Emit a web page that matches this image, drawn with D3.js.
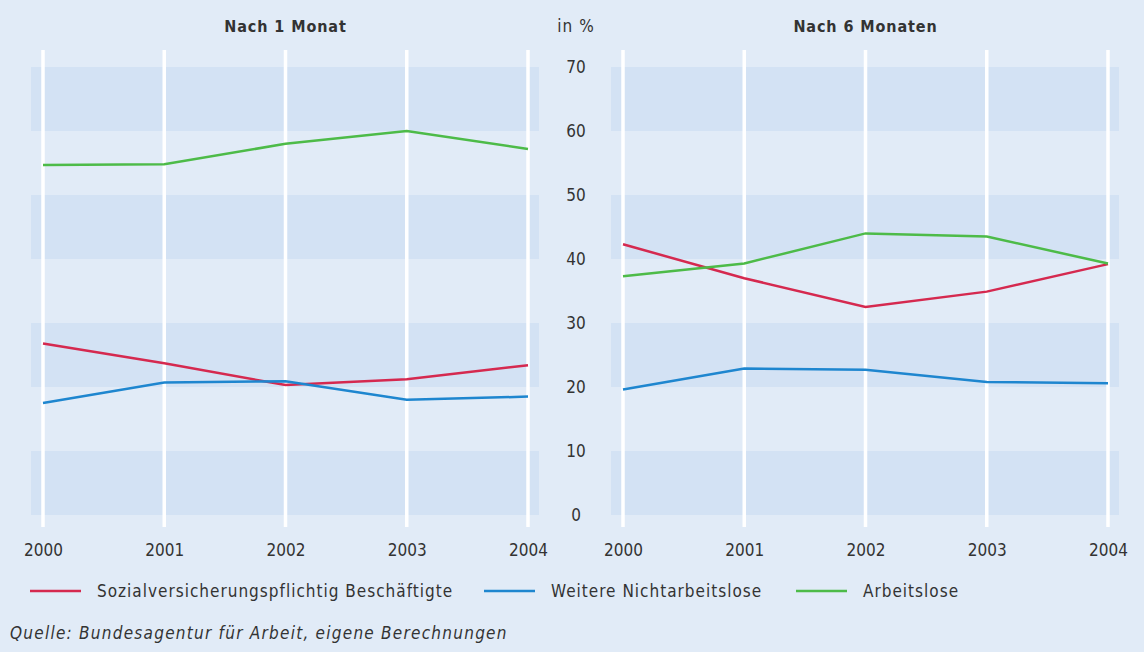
<!DOCTYPE html>
<html>
<head>
<meta charset="utf-8">
<script src="https://cdn.jsdelivr.net/npm/d3@7"></script>
<style>
  body { margin: 0; background: #e1ebf7; }
  svg { display: block; }
</style>
</head>
<body>
<svg id="chart" width="1144" height="652"></svg>
<script>
// data
let years = ["2000", "2001", "2002", "2003", "2004"];
let yTicks = [0, 10, 20, 30, 40, 50, 60, 70];
let bandStarts = [0, 20, 40, 60];

let seriesNames = ["Sozialversicherungspflichtig Beschäftigte", "Weitere Nichtarbeitslose", "Arbeitslose"];
let seriesColors = ["#d5294f", "#1e86cf", "#4dbb48"];

// Nach 1 Monat
let oneSv = [26.8, 23.7, 20.3, 21.2, 23.4];
let oneWeitere = [17.5, 20.7, 20.9, 18.0, 18.5];
let oneArbeitslos = [54.7, 54.8, 58.0, 60.0, 57.2];

// Nach 6 Monaten
let sixSv = [42.3, 37.0, 32.5, 34.9, 39.2];
let sixWeitere = [19.6, 22.9, 22.7, 20.8, 20.6];
let sixArbeitslos = [37.3, 39.3, 44.0, 43.5, 39.3];

let panels = [
	{title: "Nach 1 Monat", x0: 43, x1: 528, series: [oneSv, oneWeitere, oneArbeitslos]},
	{title: "Nach 6 Monaten", x0: 623, x1: 1108, series: [sixSv, sixWeitere, sixArbeitslos]}
];

let font = "'DejaVu Sans Condensed', 'DejaVu Sans', sans-serif";
let textColor = "#333";

let svg = d3.select("#chart");
svg.append("rect").attr("width", 1144).attr("height", 652).attr("fill", "#e1ebf7");

let y = d3.scaleLinear().domain([0, 70]).range([515, 67]);

panels.forEach(function(p) {
	let x = d3.scalePoint().domain(years).range([p.x0, p.x1]);
	let g = svg.append("g");

	// light bands
	g.selectAll("rect.band")
		.data(bandStarts).enter()
		.append("rect")
		.attr("class", "band")
		.attr("x", p.x0 - 12)
		.attr("width", p.x1 - p.x0 + 23)
		.attr("y", d => y(d + 10))
		.attr("height", d => y(d) - y(d + 10))
		.attr("fill", "#d3e2f4")

	// white year lines
	g.selectAll("line.grid")
		.data(years).enter()
		.append("line")
		.attr("x1", d => x(d))
		.attr("x2", d => x(d))
		.attr("y1", 50)
		.attr("y2", 527)
		.attr("stroke", "#ffffff")
		.attr("stroke-width", 3.5)

	// x axis labels
	let xAxis = d3.axisBottom(x).tickSize(0).tickPadding(0);
	let ax = g.append("g").attr("transform", "translate(0,544)").call(xAxis);
	ax.select(".domain").remove();
	ax.selectAll("text")
		.attr("font-family", font)
		.attr("font-size", "17px")
		.attr("fill", textColor)
		.attr("dy", "0.71em")

	g.append("text")
		.attr("x", (p.x0 + p.x1) / 2)
		.attr("y", 32)
		.attr("text-anchor", "middle")
		.attr("font-family", font)
		.attr("font-weight", "bold")
		.attr("font-size", "16px")
		.attr("letter-spacing", "0.9px")
		.attr("fill", textColor)
		.text(p.title)

	let line = d3.line()
		.x((d, i) => x(years[i]))
		.y(d => y(d));

	g.selectAll("path.series")
		.data(p.series).enter()
		.append("path")
		.attr("class", "series")
		.attr("d", d => line(d))
		.attr("fill", "none")
		.attr("stroke", (d, i) => seriesColors[i])
		.attr("stroke-width", 2.5)
});

// y axis in the middle
let yAxis = d3.axisRight(y).tickValues(yTicks).tickSize(0).tickPadding(0);
let ay = svg.append("g").attr("transform", "translate(576,0)").call(yAxis);
ay.select(".domain").remove();
ay.selectAll("text")
	.attr("text-anchor", "middle")
	.attr("x", 0)
	.attr("font-family", font)
	.attr("font-size", "17px")
	.attr("fill", textColor)

svg.append("text")
	.attr("x", 576)
	.attr("y", 32)
	.attr("text-anchor", "middle")
	.attr("font-family", font)
	.attr("font-size", "17px")
	.attr("letter-spacing", "1px")
	.attr("fill", textColor)
	.text("in %")

// legend
let legendX = [30, 484, 796];
let lg = svg.selectAll("g.legend")
	.data(seriesNames).enter()
	.append("g")
	.attr("class", "legend")
	.attr("transform", (d, i) => "translate(" + legendX[i] + ",591)")

lg.append("line")
	.attr("x1", 0).attr("x2", 51)
	.attr("stroke", (d, i) => seriesColors[i])
	.attr("stroke-width", 2.5)

lg.append("text")
	.attr("x", 67)
	.attr("dy", "0.35em")
	.attr("font-family", font)
	.attr("font-size", "17px")
	.attr("letter-spacing", "1px")
	.attr("fill", textColor)
	.text(d => d)

svg.append("text")
	.attr("x", 10)
	.attr("y", 639)
	.attr("font-family", font)
	.attr("font-style", "italic")
	.attr("font-size", "17px")
	.attr("letter-spacing", "1.25px")
	.attr("fill", textColor)
	.text("Quelle: Bundesagentur für Arbeit, eigene Berechnungen")
</script>
</body>
</html>
